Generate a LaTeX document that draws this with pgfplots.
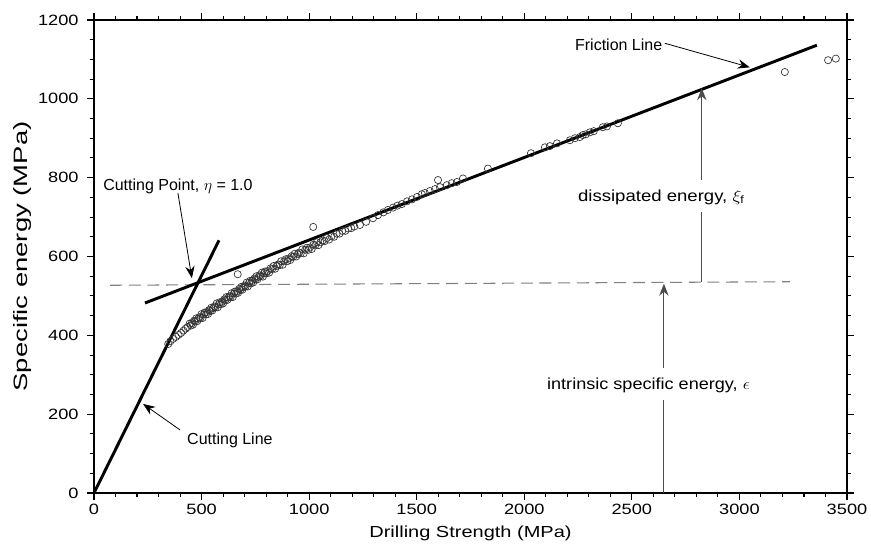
\documentclass[border=0pt]{standalone}
\usepackage{pgfplots}
\pgfplotsset{compat=1.18}
\usepackage{graphicx}
\usepackage{fontspec}
\setmainfont{Liberation Sans}
\usetikzlibrary{arrows.meta}

\pgfplotstableread{
x y
345 378
355 385
368 391
381 396
393 401
405 406
416 412
426 417
435 421
445 430
450 425
455 431
460 427
465 437
470 435
475 443
480 436
485 442
490 446
495 444
500 454
505 444
510 453
515 458
520 453
525 459
530 454
535 464
540 462
545 470
550 463
555 469
560 473
565 471
570 481
575 471
580 479
585 484
590 479
595 485
600 481
605 491
610 489
615 497
620 490
625 496
630 499
635 497
640 507
645 497
650 506
655 511
660 506
665 512
670 508
675 518
680 515
685 523
690 516
695 522
700 526
705 524
710 534
715 524
720 533
725 538
730 532
735 538
740 534
745 544
750 542
755 550
760 542
765 548
770 552
775 550
780 559
785 549
790 558
795 562
800 557
807 563
814 559
821 570
828 568
835 576
842 569
849 576
856 580
863 578
870 588
877 579
884 588
891 593
898 588
905 595
912 591
919 601
926 599
933 607
940 600
947 606
954 610
961 608
968 618
975 608
982 617
989 622
996 617
1004 623
1012 619
1020 630
1028 628
1036 636
1044 629
1052 636
1062 640
1072 639
1082 647
1093 643
1104 651
1116 650
1128 658
1141 658
1154 665
1168 665
1182 671
1196 672
1210 676
1236 680
1265 688
1297 697
1320 705
1345 712
1366 718
1390 724
1410 729
1431 733
1455 740
1478 745
1501 751
1524 758
1538 761
1561 766
1585 771
1608 776
1640 781
1663 786
1687 789
1715 798
1831 823
2031 862
2096 877
2119 880
2152 887
2212 895
2235 900
2258 903
2272 908
2286 910
2305 915
2323 918
2365 928
2384 930
2435 938
668 555
1019 675
1599 794
3211 1068
3412 1098
3448 1102
}\scatterdata

\begin{document}
\begin{tikzpicture}[font=\fontsize{12}{14}\selectfont]
\begin{axis}[
  scale only axis, width=564.75pt, height=354.75pt,
  xmin=0, xmax=3500, ymin=0, ymax=1200,
  xtick={0,500,...,3500}, ytick={0,200,...,1200},
  minor x tick num=4, minor y tick num=3,
  tick pos=both, tick align=outside,
  major tick length=5pt, minor tick length=3pt,
  axis line style={line width=0.9pt},
  every tick/.style={line width=0.8pt, black},
  /pgf/number format/set thousands separator={},
  tick label style={font=\fontsize{11.2}{13}\selectfont},
  xticklabel={\scalebox{1.22}[1]{\pgfmathprintnumber[assume math mode=true]{\tick}}},
  yticklabel={\scalebox{1.22}[1]{\pgfmathprintnumber[assume math mode=true]{\tick}}},
  yticklabel style={xshift=-3pt},
  xlabel={\scalebox{1.25}[1]{Drilling Strength (MPa)}},
  ylabel={\scalebox{1.42}[1]{Specific energy (MPa)}},
  x label style={font=\fontsize{12}{14}\selectfont, at={(axis description cs:0.5,-0.085)}, anchor=center},
  y label style={font=\fontsize{14.5}{16}\selectfont, at={(axis description cs:-0.0956,0.5)}, anchor=center},
  clip=false,
]
% scatter
\addplot[only marks, mark=o, mark size=2.7pt, mark options={line width=0.5pt, draw=black!80}] table[x=x,y=y] {\scatterdata};
% intrinsic specific energy (dashed)
\addplot[gray, line width=0.8pt, dash pattern=on 9pt off 5pt] coordinates {(75,527) (3235,536)};
% cutting line
\addplot[black, line width=2.2pt] coordinates {(0,0) (581,641)};
% friction line
\addplot[black, line width=2.2pt] coordinates {(237,482) (3360,1136)};

% annotations
\node[anchor=west, inner sep=0pt] at (axis cs:42,778) {Cutting Point, $\eta$ = 1.0};
\draw[black, line width=0.6pt, -{Stealth[length=9pt,width=7pt]}] (axis cs:390,761) -- (axis cs:455,545);

\node[anchor=west, inner sep=0pt] at (axis cs:432,134) {Cutting Line};
\draw[black, line width=0.6pt, -{Stealth[length=9pt,width=7pt]}] (axis cs:400,160) -- (axis cs:228,226);

\node[anchor=west, inner sep=0pt] at (axis cs:2235,1136) {Friction Line};
\draw[black, line width=0.6pt, -{Stealth[length=9pt,width=7pt]}] (axis cs:2653,1141) -- (axis cs:3048,1080);

\node[anchor=west, inner sep=0pt] at (axis cs:2249,750) {\scalebox{1.16}[1]{dissipated energy, $\xi_{\mathrm{f}}$}};
\draw[black!70, line width=0.75pt] (axis cs:2825,535) -- (axis cs:2825,712);
\draw[black!70, line width=0.75pt, -{Stealth[length=9pt,width=7pt]}] (axis cs:2825,794) -- (axis cs:2825,1027);

\node[anchor=west, inner sep=0pt] at (axis cs:2105,274) {\scalebox{1.13}[1]{intrinsic specific energy, $\epsilon$}};
\draw[black!70, line width=0.75pt] (axis cs:2649,0) -- (axis cs:2649,236);
\draw[black!70, line width=0.75pt, -{Stealth[length=9pt,width=7pt]}] (axis cs:2649,317) -- (axis cs:2649,531);
\end{axis}
\pgfresetboundingbox
\path[use as bounding box] (-70.5pt,-44.25pt) rectangle (582.75pt,369.75pt);
\end{tikzpicture}
\end{document}
